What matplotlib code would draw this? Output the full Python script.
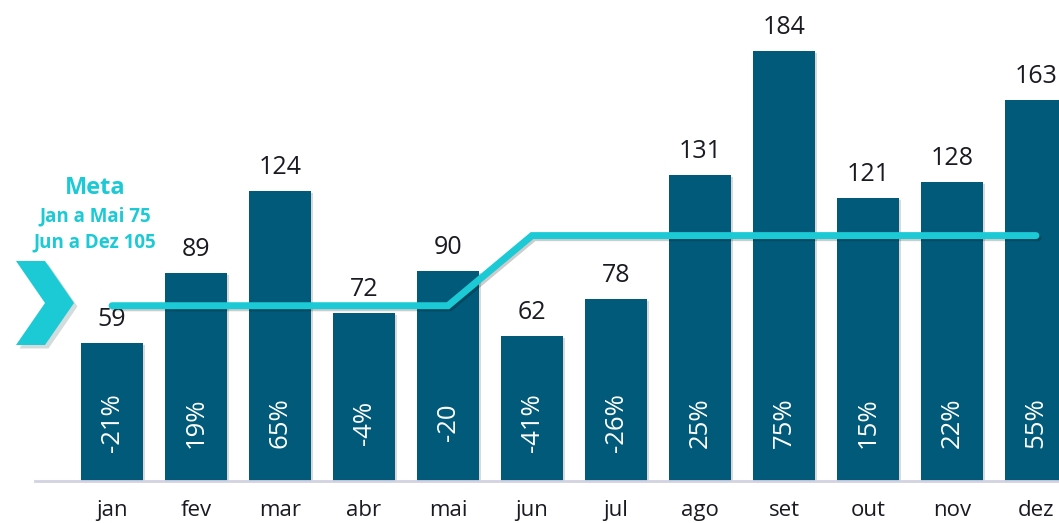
import matplotlib
matplotlib.use("Agg")
import matplotlib.pyplot as plt
import matplotlib.patheffects as pe
from matplotlib.patches import Polygon

months = ["jan", "fev", "mar", "abr", "mai", "jun", "jul", "ago", "set", "out", "nov", "dez"]
values = [59, 89, 124, 72, 90, 62, 78, 131, 184, 121, 128, 163]
pct_labels = ["-21%", "19%", "65%", "-4%", "-20", "-41%", "-26%", "25%", "75%", "15%", "22%", "55%"]
meta = [75, 75, 75, 75, 75, 105, 105, 105, 105, 105, 105, 105]
meta_title = "Meta"
meta_lines = ["Jan a Mai 75", "Jun a Dez 105"]

BAR = "#015a79"
CYAN = "#1ccad6"
FONT = "Open Sans"

W, H = 1059, 523
fig = plt.figure(figsize=(W / 100, H / 100), dpi=100)
ax = fig.add_axes([35 / W, 42 / H, 1 - 35 / W, 481 / H])
x = list(range(len(months)))
ax.set_xlim(-0.917, 11.274)
ax.set_ylim(0, 205.8)

shadow = [pe.SimplePatchShadow(offset=(1.5, -1.5), shadow_rgbFace="#000000", alpha=0.15), pe.Normal()]
bars = ax.bar(x, values, width=0.74, color=BAR, zorder=2)
for b in bars:
    b.set_path_effects(shadow)

for xi, v in zip(x, values):
    ax.annotate(str(v), (xi, v), xytext=(0, 8), textcoords="offset points",
                ha="center", va="bottom", fontsize=18, color="#1a1a22", family=FONT)

for xi, lab in zip(x, pct_labels):
    ax.text(xi, 25, lab, rotation=90, ha="center", va="center", fontsize=18.5,
            color="white", family=FONT, zorder=4)

ax.plot(x, meta, color=CYAN, lw=5, solid_capstyle="round", solid_joinstyle="miter", zorder=3,
        path_effects=[pe.SimpleLineShadow(offset=(1.5, -1.5), alpha=0.2), pe.Normal()])

for s in ["top", "right", "left"]:
    ax.spines[s].set_visible(False)
ax.spines["bottom"].set_color("#d3d2e2")
ax.spines["bottom"].set_linewidth(2)
ax.set_yticks([])
ax.set_xticks(x)
ax.set_xticklabels(months, fontsize=16, family=FONT, color="#1a1a22")
ax.tick_params(axis="x", length=0, pad=13.5)

# Meta annotation text
fig.text(95 / W, 1 - 188 / H, meta_title, ha="center", va="center", fontsize=17,
         fontweight="bold", color=CYAN, family=FONT)
fig.text(95 / W, 1 - 216 / H, meta_lines[0], ha="center", va="center", fontsize=13.5,
         fontweight="bold", color=CYAN, family=FONT)
fig.text(95 / W, 1 - 242 / H, meta_lines[1], ha="center", va="center", fontsize=13.5,
         fontweight="bold", color=CYAN, family=FONT)

# chevron
pts = [(16, 261), (45, 261), (74, 303), (45, 345), (16, 345), (45, 303)]
pts_fig = [(px / W, 1 - py / H) for px, py in pts]
chev = Polygon(pts_fig, closed=True, transform=fig.transFigure, facecolor=CYAN,
               edgecolor="none",
               path_effects=[pe.SimplePatchShadow(offset=(2.5, -2.5), alpha=0.18), pe.Normal()])
fig.patches.append(chev)

fig.savefig("out.png", dpi=100)
